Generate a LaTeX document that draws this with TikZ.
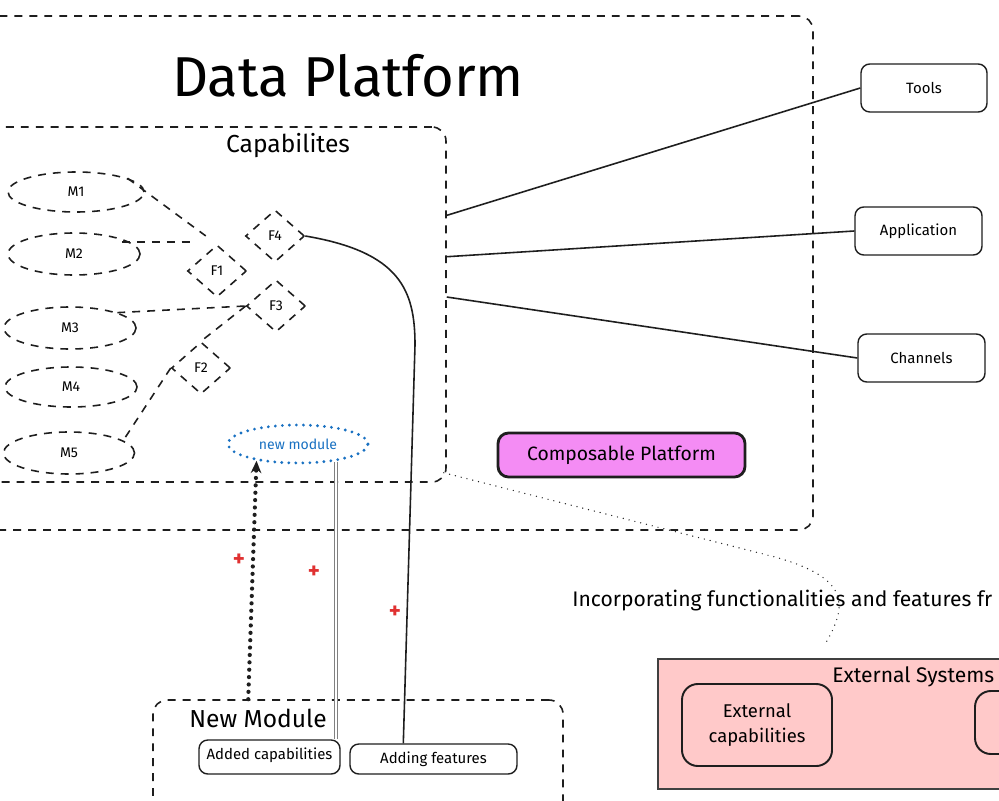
\documentclass[tikz,border=0pt]{standalone}
\usepackage{fontspec}
\setmainfont{Fira Sans}
\usetikzlibrary{shapes.geometric,arrows.meta,calc}
\definecolor{ink}{HTML}{1E1E1E}
\definecolor{mblue}{HTML}{1971C2}
\definecolor{mred}{HTML}{E03131}
\definecolor{pinkfill}{HTML}{FFC9C9}
\definecolor{magfill}{HTML}{F48CF4}
\newdimen\pxu \pxu=0.02cm
\begin{document}
\begin{tikzpicture}[x=0.02cm,y=-0.02cm,
  dsh/.style={draw=ink, line width=0.9pt, dash pattern=on 4.5pt off 4pt},
  groupbox/.style={dsh, rectangle, rounded corners=8pt, inner sep=0pt},
  modell/.style={ellipse, dsh, inner sep=0pt, font=\fontsize{8}{9}\selectfont},
  featd/.style={diamond, dsh, inner sep=0pt, minimum width=59*\pxu, minimum height=52*\pxu, font=\fontsize{8}{9}\selectfont},
  conn/.style={draw=ink, line width=0.9pt},
  sbox/.style={draw=ink, line width=0.8pt, rounded corners=5pt, inner sep=0pt, font=\fontsize{8.5}{10}\selectfont},
  bigdot/.style={draw=ink, line width=2.4pt, dash pattern=on 0pt off 4.2pt, line cap=round},
  smalldot/.style={draw=ink, line width=0.8pt, dash pattern=on 0pt off 3.4pt, line cap=round},
  dbl/.style={draw=gray, line width=0.5pt, double=white, double distance=1.2pt},
  plus/.style={text=mred, font=\fontsize{13}{13}\selectfont\bfseries, inner sep=0pt}
]
\useasboundingbox (0,0) rectangle (999,800);
\clip (0,0) rectangle (999,800);
\fill[white] (0,0) rectangle (999,800);

% Data Platform
\node[groupbox, minimum width=843*\pxu, minimum height=514*\pxu] (dp) at (391.5,273) {};
\node[font=\fontsize{32}{38}\selectfont, inner sep=0pt] (title) at (348,76) {Data Platform};

% Capabilities
\node[groupbox, minimum width=476*\pxu, minimum height=355*\pxu] (cap) at (208,304.5) {};
\node[font=\fontsize{14}{16}\selectfont, inner sep=0pt] (captxt) at (288,146) {Capabilites};

% modules
\node[modell, minimum width=136*\pxu, minimum height=40*\pxu] (m1) at (76,192) {M1};
\node[modell, minimum width=132*\pxu, minimum height=42*\pxu] (m2) at (74,254) {M2};
\node[modell, minimum width=132*\pxu, minimum height=42*\pxu] (m3) at (70,328) {M3};
\node[modell, minimum width=132*\pxu, minimum height=40*\pxu] (m4) at (71,387) {M4};
\node[modell, minimum width=131*\pxu, minimum height=42*\pxu] (m5) at (69,453) {M5};

% features
\node[featd] (f4) at (275,236) {F4};
\node[featd] (f1) at (217,271) {F1};
\node[featd] (f3) at (276,306) {F3};
\node[featd] (f2) at (201,368) {F2};

% dashed links
\draw[dsh, shorten >=14*\pxu] (m1.15) -- (f1.north);
\draw[dsh, shorten <=-8*\pxu, shorten >=-7*\pxu] (m2.12) -- (m2.12 -| f1.west);
\draw[dsh] (m3.18) -- (f3.west);
\draw[dsh] (f3.west) -- (f2.north);
\draw[dsh] (f2.west) -- (m5.13);

% new module
\node[ellipse, draw=mblue, line width=1.8pt, dash pattern=on 0pt off 4pt, line cap=round,
      minimum width=140*\pxu, minimum height=38*\pxu, inner sep=0pt, text=mblue,
      font=\fontsize{8}{9}\selectfont] (nm) at (298,444) {new module};

% right boxes
\node[sbox, minimum width=126*\pxu, minimum height=48*\pxu] (tools) at (924,88) {Tools};
\node[sbox, minimum width=127*\pxu, minimum height=48*\pxu] (app) at (918.5,231) {Application};
\node[sbox, minimum width=127*\pxu, minimum height=48*\pxu] (chan) at (921.5,358) {Channels};
\coordinate (c1) at ($(cap.north east)!0.25!(cap.south east)$);
\coordinate (c2) at ($(cap.north east)!0.366!(cap.south east)$);
\coordinate (c3) at ($(cap.north east)!0.479!(cap.south east)$);
\draw[conn] (c1) -- (tools.west);
\draw[conn] (c2) -- (app.west);
\draw[conn] (c3) -- (chan.west);

% composable platform
\node[draw=ink, line width=1.6pt, fill=magfill, rounded corners=6pt, inner sep=0pt,
      minimum width=247*\pxu, minimum height=44*\pxu, font=\fontsize{11}{13}\selectfont] (comp) at (621.5,455) {Composable Platform};

% New Module group
\node[groupbox, minimum width=410*\pxu, minimum height=180*\pxu] (nmod) at (358,790) {};
\node[font=\fontsize{14}{16}\selectfont, inner sep=0pt] (nmodt) at (258,718) {New Module};
\node[sbox, minimum width=141*\pxu, minimum height=34*\pxu] (added) at (269.5,757) {\raisebox{4pt}{Added capabilities}};
\node[sbox, minimum width=167*\pxu, minimum height=30*\pxu] (feat) at (433.5,759) {Adding features};

% connectors to new module
\draw[bigdot, -{Stealth[length=7pt,width=6pt]}] ($(nmod.north west)+(96,0)$) -- (nm.202);
\draw[dbl] (nm.-25) -- (nm.-25 |- added.north);
\draw[conn] (f4.east) .. controls (400,252) and (415,290) .. (415,345) -- ($(feat.north west)+(54,0)$);

% plus signs
\node[plus] (p1) at (239,560) {+};
\node[plus] (p2) at (314,572) {+};
\node[plus] (p3) at (395,612) {+};

% External systems
\node[draw=ink!85, line width=1pt, fill=pinkfill, minimum width=400*\pxu, minimum height=130*\pxu, inner sep=0pt] (ext) at (858,724) {};
\node[anchor=west, font=\fontsize{12}{14}\selectfont, inner sep=0pt] (extt) at (832,677) {External Systems};
\node[draw=ink, line width=1.1pt, rounded corners=9pt, inner sep=0pt, align=center,
      minimum width=150*\pxu, minimum height=82*\pxu, font=\fontsize{10.5}{14}\selectfont] (extcap) at (757,725) {External\\capabilities};
\node[draw=ink, line width=1.1pt, rounded corners=9pt, inner sep=0pt,
      minimum width=130*\pxu, minimum height=63*\pxu] (extb) at (1040,722.5) {};

% incorporating text and dotted link
\node[anchor=west, font=\fontsize{12}{14}\selectfont, inner sep=0pt] (inc) at (572,601) {Incorporating functionalities and features fr};
\coordinate (dstart) at ($(cap.south east)+(-3,-10)$);
\coordinate (dend) at ($(ext.north west)+(168,-14)$);
\draw[smalldot] (dstart) -- (775,557) .. controls (850,578) and (848,605) .. (dend);
\end{tikzpicture}
\end{document}
